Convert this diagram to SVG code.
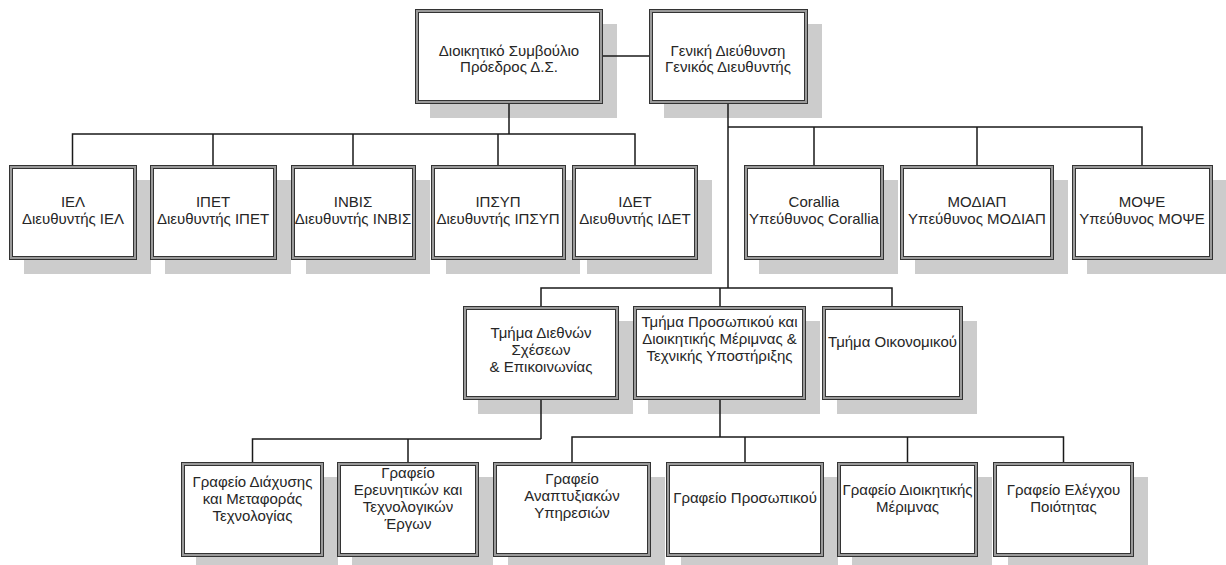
<svg xmlns="http://www.w3.org/2000/svg" width="1226" height="565" viewBox="0 0 1226 565">
<style>
.sh{fill:#cccccc}
.o{fill:#9a9a9a;stroke:#333;stroke-width:1}
.i{fill:#fff;stroke:#333;stroke-width:1}
.t{font-family:"Liberation Sans",Arial,sans-serif;font-size:15px;fill:#262626;text-anchor:middle}
.c{stroke:#1a1a1a;stroke-width:1.5;fill:none}
</style>
<rect width="1226" height="565" fill="#fff"/>
<g id="n-ds"><rect class="sh" x="430" y="24" width="187" height="94"/><rect class="o" x="415.5" y="9.5" width="187" height="94"/><rect class="i" x="418.5" y="12.5" width="181" height="88"/><text class="t" x="509" y="56">Διοικητικό Συμβούλιο</text><text class="t" x="509" y="72">Πρόεδρος Δ.Σ.</text></g>
<g id="n-gd"><rect class="sh" x="664" y="24" width="158" height="94"/><rect class="o" x="649.5" y="9.5" width="158" height="94"/><rect class="i" x="652.5" y="12.5" width="152" height="88"/><text class="t" x="728" y="56">Γενική Διεύθυνση</text><text class="t" x="728" y="72">Γενικός Διευθυντής</text></g>

<g id="n-iel"><rect class="sh" x="24" y="180" width="127" height="94"/><rect class="o" x="9.5" y="165.5" width="127" height="94"/><rect class="i" x="12.5" y="168.5" width="121" height="88"/><text class="t" x="73" y="207">ΙΕΛ</text><text class="t" x="73" y="224">Διευθυντής ΙΕΛ</text></g>
<g id="n-ipet"><rect class="sh" x="165" y="180" width="126" height="94"/><rect class="o" x="150.5" y="165.5" width="126" height="94"/><rect class="i" x="153.5" y="168.5" width="120" height="88"/><text class="t" x="213" y="207">ΙΠΕΤ</text><text class="t" x="213" y="224">Διευθυντής ΙΠΕΤ</text></g>
<g id="n-inbis"><rect class="sh" x="306" y="180" width="124" height="94"/><rect class="o" x="291.5" y="165.5" width="124" height="94"/><rect class="i" x="294.5" y="168.5" width="118" height="88"/><text class="t" x="353" y="207">ΙΝΒΙΣ</text><text class="t" x="353" y="224">Διευθυντής ΙΝΒΙΣ</text></g>
<g id="n-ipsyp"><rect class="sh" x="446" y="180" width="134" height="94"/><rect class="o" x="431.5" y="165.5" width="134" height="94"/><rect class="i" x="434.5" y="168.5" width="128" height="88"/><text class="t" x="498" y="207">ΙΠΣΥΠ</text><text class="t" x="498" y="224">Διευθυντής ΙΠΣΥΠ</text></g>
<g id="n-idet"><rect class="sh" x="587" y="180" width="125" height="94"/><rect class="o" x="572.5" y="165.5" width="125" height="94"/><rect class="i" x="575.5" y="168.5" width="119" height="88"/><text class="t" x="635" y="207">ΙΔΕΤ</text><text class="t" x="635" y="224">Διευθυντής ΙΔΕΤ</text></g>
<g id="n-corallia"><rect class="sh" x="759" y="180" width="139" height="94"/><rect class="o" x="744.5" y="165.5" width="139" height="94"/><rect class="i" x="747.5" y="168.5" width="133" height="88"/><text class="t" x="814" y="207">Corallia</text><text class="t" x="814" y="224">Υπεύθυνος Corallia</text></g>
<g id="n-modiap"><rect class="sh" x="915" y="180" width="153" height="94"/><rect class="o" x="900.5" y="165.5" width="153" height="94"/><rect class="i" x="903.5" y="168.5" width="147" height="88"/><text class="t" x="977" y="207">ΜΟΔΙΑΠ</text><text class="t" x="977" y="224">Υπεύθυνος ΜΟΔΙΑΠ</text></g>
<g id="n-mope"><rect class="sh" x="1087" y="180" width="140" height="94"/><rect class="o" x="1072.5" y="165.5" width="140" height="94"/><rect class="i" x="1075.5" y="168.5" width="134" height="88"/><text class="t" x="1142" y="207">ΜΟΨΕ</text><text class="t" x="1142" y="224">Υπεύθυνος ΜΟΨΕ</text></g>

<g id="n-diethnon"><rect class="sh" x="478" y="321" width="155" height="93"/><rect class="o" x="463.5" y="306.5" width="155" height="93"/><rect class="i" x="466.5" y="309.5" width="149" height="87"/><text class="t" x="541" y="338">Τμήμα Διεθνών</text><text class="t" x="541" y="355">Σχέσεων</text><text class="t" x="541" y="372">&amp; Επικοινωνίας</text></g>
<g id="n-prosopikou"><rect class="sh" x="648" y="321" width="172" height="93"/><rect class="o" x="633.5" y="306.5" width="172" height="93"/><rect class="i" x="636.5" y="309.5" width="166" height="87"/><text class="t" x="719.5" y="327">Τμήμα Προσωπικού και</text><text class="t" x="719.5" y="344">Διοικητικής Μέριμνας &amp;</text><text class="t" x="719.5" y="361">Τεχνικής Υποστήριξης</text></g>
<g id="n-oikonomikou"><rect class="sh" x="837" y="321" width="140" height="93"/><rect class="o" x="822.5" y="306.5" width="140" height="93"/><rect class="i" x="825.5" y="309.5" width="134" height="87"/><text class="t" x="892.5" y="347">Τμήμα Οικονομικού</text></g>

<g id="n-diaxysis"><rect class="sh" x="196" y="477" width="142" height="94"/><rect class="o" x="181.5" y="462.5" width="142" height="94"/><rect class="i" x="184.5" y="465.5" width="136" height="88"/><text class="t" x="252.5" y="487">Γραφείο Διάχυσης</text><text class="t" x="252.5" y="504">και Μεταφοράς</text><text class="t" x="252.5" y="521">Τεχνολογίας</text></g>
<g id="n-erevnitikon"><rect class="sh" x="352" y="477" width="141" height="94"/><rect class="o" x="337.5" y="462.5" width="141" height="94"/><rect class="i" x="340.5" y="465.5" width="135" height="88"/><text class="t" x="408" y="478">Γραφείο</text><text class="t" x="408" y="495">Ερευνητικών και</text><text class="t" x="408" y="512">Τεχνολογικών</text><text class="t" x="408" y="529">Έργων</text></g>
<g id="n-anaptyxiakon"><rect class="sh" x="508" y="477" width="157" height="94"/><rect class="o" x="493.5" y="462.5" width="157" height="94"/><rect class="i" x="496.5" y="465.5" width="151" height="88"/><text class="t" x="572" y="484">Γραφείο</text><text class="t" x="572" y="501">Αναπτυξιακών</text><text class="t" x="572" y="518">Υπηρεσιών</text></g>
<g id="n-gr-prosopikou"><rect class="sh" x="681" y="477" width="157" height="94"/><rect class="o" x="666.5" y="462.5" width="157" height="94"/><rect class="i" x="669.5" y="465.5" width="151" height="88"/><text class="t" x="745" y="503">Γραφείο Προσωπικού</text></g>
<g id="n-dioikitikis"><rect class="sh" x="852" y="477" width="140" height="94"/><rect class="o" x="837.5" y="462.5" width="140" height="94"/><rect class="i" x="840.5" y="465.5" width="134" height="88"/><text class="t" x="907.5" y="495">Γραφείο Διοικητικής</text><text class="t" x="907.5" y="512">Μέριμνας</text></g>
<g id="n-elegxou"><rect class="sh" x="1008" y="477" width="140" height="94"/><rect class="o" x="993.5" y="462.5" width="140" height="94"/><rect class="i" x="996.5" y="465.5" width="134" height="88"/><text class="t" x="1063.5" y="495">Γραφείο Ελέγχου</text><text class="t" x="1063.5" y="512">Ποιότητας</text></g>

<g id="connectors">
<path class="c" d="M603 56H649"/>
<path class="c" d="M509 104V134M72.5 165V134H635V165M213 134V165M353 134V165M498 134V165"/>
<path class="c" d="M728 104V288M728 127H1142V165M814 127V165M977 127V165"/>
<path class="c" d="M541 306V288H892V306M720 288V306"/>
<path class="c" d="M541 400V439M252.5 462V439H541M408 439V462"/>
<path class="c" d="M720 400V437M572 462V437H1063.5V462M745 437V462M907.5 437V462"/>
</g>
</svg>
